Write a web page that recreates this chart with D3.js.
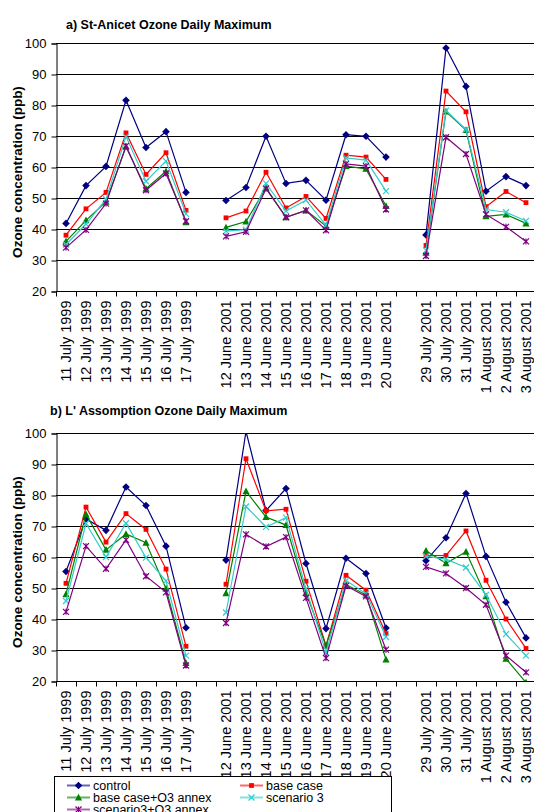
<!DOCTYPE html>
<html>
<head>
<meta charset="utf-8">
<script src="https://cdn.jsdelivr.net/npm/d3@7"></script>
<style>
  body { margin: 0; background: #fff; }
  text { font-family: "Liberation Sans", Arial, sans-serif; fill: #000; }
</style>
</head>
<body>
<svg width="534" height="812"></svg>
<script>
/** Ozone daily maximum, two stations, five model runs **/

// category axis, blank entries are the gaps between episodes
var categories = ["11 July 1999", "12 July 1999", "13 July 1999", "14 July 1999", "15 July 1999", "16 July 1999", "17 July 1999", "",
    "12 June 2001", "13 June 2001", "14 June 2001", "15 June 2001", "16 June 2001", "17 June 2001", "18 June 2001", "19 June 2001", "20 June 2001", "",
    "29 July 2001", "30 July 2001", "31 July 2001", "1 August 2001", "2 August 2001", "3 August 2001"];
var yTicks = [20, 30, 40, 50, 60, 70, 80, 90, 100];
var seriesNames = ["control", "base case", "base case+O3 annex", "scenario 3", "scenario3+O3 annex"];

// a) St-Anicet
var anicetControl  = [41.8, 54.0, 60.2, 81.5, 66.3, 71.4, 51.8, null, 49.2, 53.4, 69.9, 54.7, 55.7, 49.3, 70.4, 69.9, 63.2, null, 38.1, 98.4, 86.0, 52.2, 56.9, 54.0];
var anicetBase     = [38.0, 46.5, 51.8, 71.0, 57.6, 64.6, 46.0, null, 43.6, 45.8, 58.3, 46.8, 50.5, 43.4, 63.8, 63.2, 56.0, null, 34.7, 84.5, 77.8, 47.2, 52.1, 48.5];
var anicetBaseO3   = [36.0, 42.8, 48.8, 66.5, 53.0, 58.6, 42.2, null, 40.5, 42.4, 53.3, 43.8, 46.0, 41.0, 60.3, 59.4, 47.4, null, 32.3, 77.9, 71.9, 44.1, 44.7, 41.8];
var anicetScen3    = [35.0, 41.6, 49.6, 69.8, 55.4, 61.9, 44.9, null, 39.3, 39.8, 54.7, 45.8, 49.3, 41.2, 62.9, 62.2, 52.2, null, 33.1, 78.2, 72.1, 46.3, 45.4, 42.6];
var anicetScen3O3  = [34.0, 39.7, 48.2, 66.8, 52.5, 57.9, 42.5, null, 37.6, 39.1, 53.0, 43.8, 46.0, 39.6, 61.0, 60.3, 46.3, null, 31.3, 69.6, 64.2, 44.7, 40.7, 36.0];

// b) L' Assomption
var assompControl  = [55.3, 72.3, 68.6, 82.6, 76.6, 63.5, 37.2, null, 59.0, 100.5, 75.0, 82.1, 57.9, 36.9, 59.6, 54.7, 37.1, null, 58.8, 66.2, 80.5, 60.2, 45.4, 33.9];
var assompBase     = [51.5, 76.1, 64.8, 74.0, 68.9, 56.1, 31.2, null, 51.2, 91.7, 74.9, 75.4, 52.2, 31.4, 54.1, 49.3, 35.3, null, 60.4, 60.5, 68.4, 52.5, 40.0, 30.5];
var assompBaseO3   = [48.0, 73.8, 62.3, 67.4, 64.6, 49.8, 25.8, null, 48.3, 81.2, 72.9, 70.3, 48.4, 31.4, 51.1, 47.8, 26.9, null, 62.0, 58.0, 61.7, 47.3, 27.2, 19.5];
var assompScen3    = [45.8, 70.8, 60.0, 70.9, 59.8, 52.3, 28.2, null, 42.1, 76.3, 69.7, 72.7, 49.7, 29.2, 52.4, 48.2, 34.2, null, 60.2, 59.3, 56.6, 47.8, 35.1, 28.2];
var assompScen3O3  = [42.3, 63.5, 56.2, 65.5, 53.8, 48.6, 25.0, null, 38.7, 67.3, 63.4, 66.4, 46.8, 27.4, 50.7, 47.3, 30.1, null, 56.8, 54.7, 50.0, 44.6, 28.2, 22.8];

var colors  = ["#000080", "#ff0000", "#008000", "#33cccc", "#800080"];
var markers = ["diamond", "square", "triangle", "x", "star"];

var svg = d3.select("svg");

/** draw one marker shape centred on 0,0 **/
function draw_marker(g, type, color){
    if(type == "diamond"){
        g.append("path").attr("d", "M0,-3.8L3.8,0L0,3.8L-3.8,0Z").attr("fill", color);
    } else if(type == "square"){
        g.append("path").attr("d", "M-2.4,-2.4H2.4V2.4H-2.4Z").attr("fill", color);
    } else if(type == "triangle"){
        g.append("path").attr("d", "M0,-3.8L3.6,3L-3.6,3Z").attr("fill", color);
    } else {
        var s = 3;
        var p = "M" + (-s) + "," + (-s) + "L" + s + "," + s + "M" + (-s) + "," + s + "L" + s + "," + (-s);
        if(type == "star") p += "M0," + (-s) + "L0," + s;
        g.append("path").attr("d", p).attr("stroke", color).attr("stroke-width", 1.2).attr("fill", "none");
    }
}

/** one chart panel: gridlines, axes, labels, series **/
function draw_chart(title, titleX, titleY, top, bottom, labelY, data, clipId){
    var left = 56, right = 536;

    var yScale = d3.scaleLinear().domain([20, 100]).range([bottom, top]);
    var xScale = d3.scaleBand().domain(d3.range(categories.length)).range([left, right]);

    var g = svg.append("g");

    g.append("text")
        .attr("x", titleX).attr("y", titleY)
        .style("font-size", "12.5px").style("font-weight", "bold")
        .text(title);

    // gridlines
    g.selectAll("line.grid")
        .data(yTicks.slice(1))
        .enter().append("line")
            .attr("class", "grid")
            .attr("x1", left).attr("x2", right)
            .attr("y1", (d) => Math.round(yScale(d)) + 0.5)
            .attr("y2", (d) => Math.round(yScale(d)) + 0.5)
            .attr("stroke", "#000").attr("stroke-width", 1);

    // y axis
    var yAxis = d3.axisLeft(yScale).tickValues(yTicks).tickSize(5).tickPadding(5);
    var ya = g.append("g")
        .attr("transform", "translate(" + (left + 0.5) + ",0.5)")
        .call(yAxis);
    ya.select(".domain").attr("stroke", "#000");
    ya.selectAll("text").style("font-size", "13px").attr("font-family", null);

    // x axis with ticks between categories
    var xa = g.append("g").attr("transform", "translate(0," + (Math.round(bottom) + 0.5) + ")");
    xa.append("line").attr("x1", left).attr("x2", right).attr("stroke", "#000");
    xa.selectAll("line.tk")
        .data(d3.range(categories.length + 1))
        .enter().append("line")
            .attr("class", "tk")
            .attr("x1", (d) => Math.round(left + d * xScale.step()) + 0.5)
            .attr("x2", (d) => Math.round(left + d * xScale.step()) + 0.5)
            .attr("y1", 0).attr("y2", 5)
            .attr("stroke", "#000");
    xa.selectAll("text")
        .data(categories)
        .enter().append("text")
            .attr("transform", (d, i) => "translate(" + (xScale(i) + xScale.bandwidth() / 2) + ",9) rotate(-90)")
            .attr("dy", "0.36em")
            .style("text-anchor", "end")
            .style("font-size", "14.5px")
            .text((d) => d);

    // y axis title
    g.append("text")
        .attr("transform", "translate(17," + labelY + ") rotate(-90)")
        .attr("dy", "0.36em")
        .style("text-anchor", "middle")
        .style("font-size", "13.5px").style("font-weight", "bold")
        .text("Ozone concentration (ppb)");

    // clip to plot area
    svg.append("clipPath").attr("id", clipId)
        .append("rect").attr("x", left).attr("y", top).attr("width", right - left).attr("height", bottom - top);

    var plot = g.append("g").attr("clip-path", "url(#" + clipId + ")");
    var cx = (i) => xScale(i) + xScale.bandwidth() / 2;

    var line = d3.line()
        .defined((d) => d != null)
        .x((d, i) => cx(i))
        .y((d) => yScale(d));

    data.forEach(function(values, k){
        plot.append("path")
            .datum(values)
            .attr("d", line)
            .attr("fill", "none")
            .attr("stroke", colors[k])
            .attr("stroke-width", 1.2);

        values.forEach(function(v, i){
            if(v == null) return;
            var m = plot.append("g").attr("transform", "translate(" + cx(i) + "," + yScale(v) + ")");
            draw_marker(m, markers[k], colors[k]);
        });
    });
}

draw_chart("a) St-Anicet Ozone Daily Maximum", 66, 29, 43, 291, 172,
    [anicetControl, anicetBase, anicetBaseO3, anicetScen3, anicetScen3O3], "clipA");

draw_chart("b) L' Assomption Ozone Daily Maximum", 50, 415, 433, 681, 562,
    [assompControl, assompBase, assompBaseO3, assompScen3, assompScen3O3], "clipB");

// legend, cut off by the bottom of the picture like the original
var legend = svg.append("g");
legend.append("rect")
    .attr("x", 54.5).attr("y", 776.5).attr("width", 337).attr("height", 60)
    .attr("fill", "#fff").attr("stroke", "#000");

var legendPos = [[67, 785.5], [240, 785.5], [67, 797.5], [240, 797.5], [67, 809.5]];
seriesNames.forEach(function(name, k){
    var lg = legend.append("g").attr("transform", "translate(" + legendPos[k][0] + "," + legendPos[k][1] + ")");
    lg.append("line").attr("x1", 0).attr("x2", 23)
        .attr("stroke", colors[k]).attr("stroke-width", 2).attr("stroke-opacity", 0.6);
    draw_marker(lg.append("g").attr("transform", "translate(11.5,0)"), markers[k], colors[k]);
    lg.append("text")
        .attr("x", 26).attr("dy", "0.36em")
        .style("font-size", "12.5px")
        .text(name);
});
</script>
</body>
</html>
